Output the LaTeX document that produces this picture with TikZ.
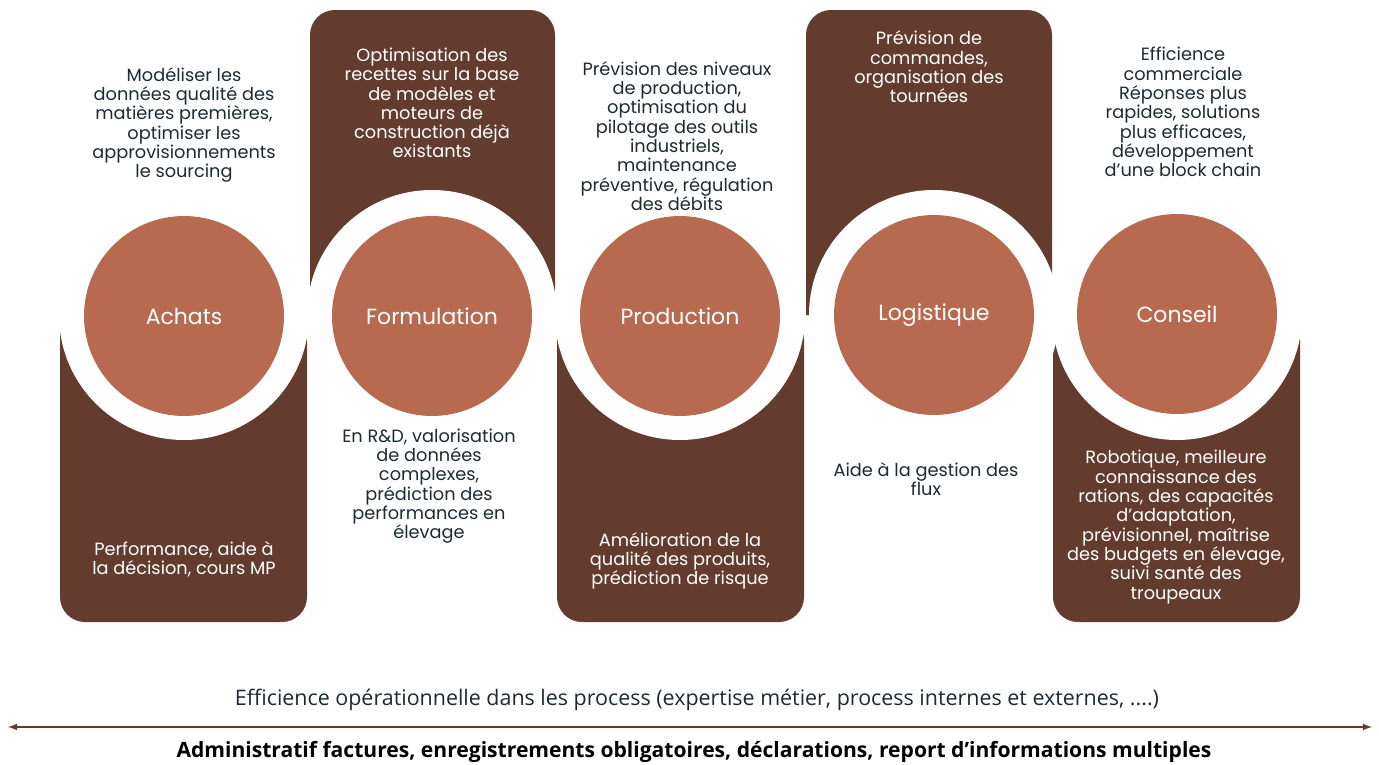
\documentclass[tikz,border=0pt]{standalone}
\usepackage{fontspec}
\setmainfont{Poppins}
\newfontfamily\notefont{Open Sans}
\usetikzlibrary{arrows}

\definecolor{bark}{HTML}{633B2F}
\definecolor{clay}{HTML}{B86A51}
\definecolor{ink}{HTML}{1E2A32}

\begin{document}
\begin{tikzpicture}[x=0.02cm,y=-0.02cm,
  hub/.style={circle,fill=clay,minimum size=4cm,inner sep=0pt,text=white,font=\fontsize{12.5}{15}\selectfont},
  txt/.style={align=center,inner sep=0pt,text=ink,font=\fontsize{10.1}{11}\selectfont},
  wtxt/.style={txt,text=white}]% five stages, boxes up and down
        \useasboundingbox (0,0) rectangle (1379,764);
        % boxes
        \fill[bark] (60,315) {[rounded corners=0.5cm] -- (60,622) -- (307,622) -- (307,315)} -- cycle;
        \fill[bark] (310,315) {[rounded corners=0.5cm] -- (310,10) -- (555,10) -- (555,315)} -- cycle;
        \fill[bark] (557,315) {[rounded corners=0.5cm] -- (557,622) -- (804,622) -- (804,315)} -- cycle;
        \fill[bark] (806,315) {[rounded corners=0.5cm] -- (806,10) -- (1052,10) -- (1052,315)} -- cycle;
        \fill[bark] (1053,315) {[rounded corners=0.5cm] -- (1053,622) -- (1300,622) -- (1300,315)} -- cycle;
        % rings
        \foreach \cx in {184,432,680,934,1177}
                \fill[white] (\cx,315) circle (125);
        % circles
        \node[hub] (achats) at (184,316) {Achats};
        \node[hub] (formulation) at (432,316) {Formulation};
        \node[hub] (production) at (680,316) {Production};
        \node[hub] (logistique) at (934,315) {Logistique};
        \node[hub] (conseil) at (1177,314) {Conseil};
        % texts above
        \node[txt] (achats-up) at (184,125) {Modéliser les\\données qualité des\\matières premières,\\optimiser les\\approvisionnements\\le sourcing};
        \node[wtxt] (formulation-up) at (432,103) {Optimisation des\\recettes sur la base\\de modèles et\\moteurs de\\construction déjà\\existants};
        \node[txt] (production-up) at (677,136) {Prévision des niveaux\\de production,\\optimisation du\\pilotage des outils\\industriels,\\maintenance\\préventive, régulation\\des débits};
        \node[wtxt] (logistique-up) at (929,67) {Prévision de\\commandes,\\organisation des\\tournées};
        \node[txt] (conseil-up) at (1183,112) {Efficience\\commerciale\\Réponses plus\\rapides, solutions\\plus efficaces,\\développement\\d’une block chain};
        % texts below
        \node[wtxt] (achats-down) at (184,559) {Performance, aide à\\la décision, cours MP};
        \node[txt] (formulation-down) at (429,486) {En R\&D, valorisation\\de données\\complexes,\\prédiction des\\performances en\\élevage};
        \node[wtxt] (production-down) at (680,561) {Amélioration de la\\qualité des produits,\\prédiction de risque};
        \node[txt] (logistique-down) at (926,479) {Aide à la gestion des\\flux};
        \node[wtxt] (conseil-down) at (1176,527) {Robotique, meilleure\\connaissance des\\rations, des capacités\\d’adaptation,\\prévisionnel, maîtrise\\des budgets en élevage,\\suivi santé des\\troupeaux};
        % axis
        \coordinate (west) at (8,727);
        \coordinate (east) at (1372,727);
        \draw[bark,line width=0.8pt,latex-latex] (west) -- (east);
        \node[text=ink,font=\notefont\fontsize{12.2}{14}\selectfont] (gain) at (697,700) {Efficience opérationnelle dans les process (expertise métier, process internes et externes, ....)};
        \node[text=black,font=\notefont\bfseries\fontsize{12}{14}\selectfont] (admin) at (694,752) {Administratif factures, enregistrements obligatoires, déclarations, report d’informations multiples};
\end{tikzpicture}
\end{document}
